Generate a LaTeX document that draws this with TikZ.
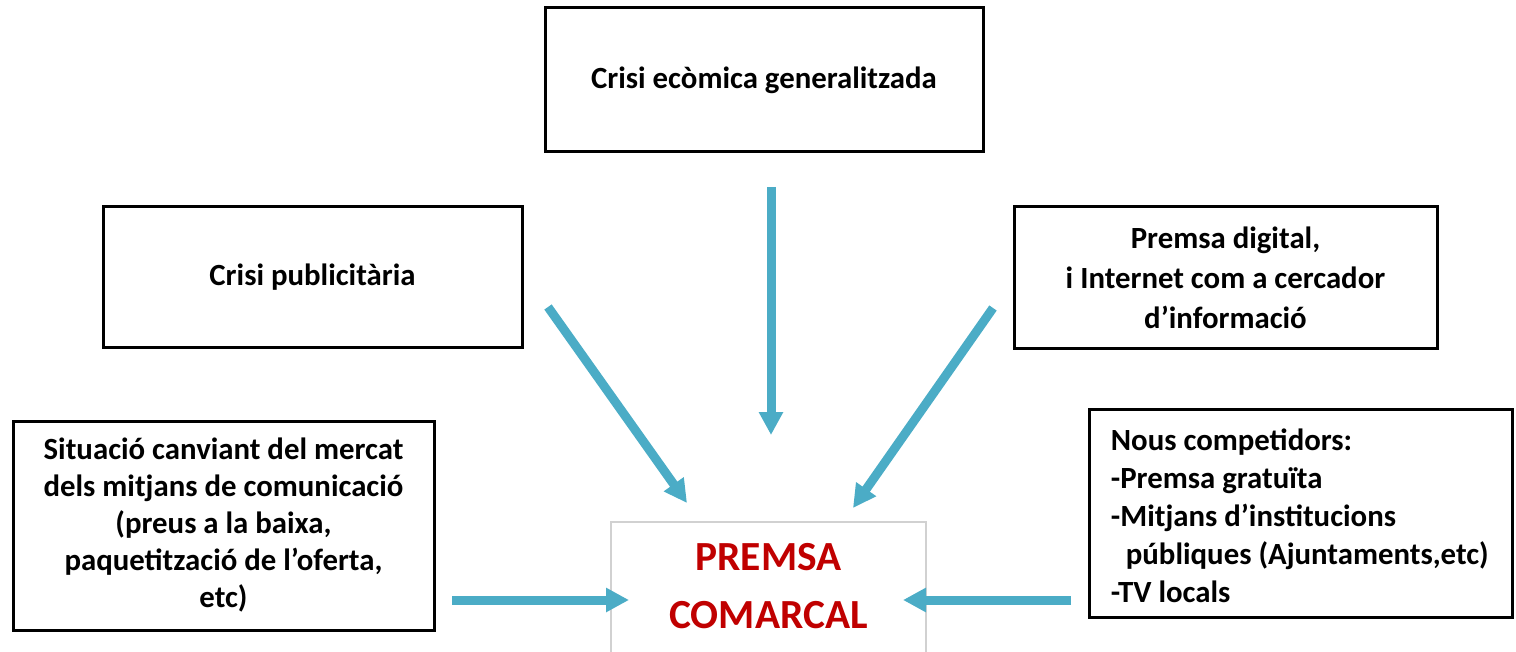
\documentclass[tikz,border=0pt]{standalone}
\usepackage{fontspec}
\setmainfont{Carlito}
\usetikzlibrary{arrows.meta}
\definecolor{arrowblue}{HTML}{4BACC6}
\definecolor{titlered}{HTML}{C00000}
\begin{document}
\begin{tikzpicture}[x=0.5pt,y=-0.5pt,
  txt/.style={font=\bfseries\fontsize{15.4}{18.5}\selectfont},
  box/.style={draw=black,line width=1.5pt,inner sep=0pt,align=center,txt},
  flow/.style={draw=arrowblue,line width=4.5pt,
    -{Triangle[width=11.5pt,length=11.5pt]}},
  frame/.style={draw=black!18,line width=0.7pt}]
\useasboundingbox (0,0) rectangle (1516,652);
\clip (0,0) rectangle (1516,652);

% boxes
\node[box,minimum width=219pt,minimum height=72pt] (eco) at (764,80)
  {Crisi ecòmica generalitzada};
\node[box,minimum width=209.5pt,minimum height=70.5pt] (pub) at (312.5,277.5)
  {Crisi publicitària};
\node[box,minimum width=211.5pt,minimum height=71pt,
  font=\bfseries\fontsize{15.4}{20}\selectfont] (dig) at (1225.5,278)
  {Premsa digital,\\ i Internet com a cercador\\ d’informació};
\node[box,minimum width=210.5pt,minimum height=104.5pt] (mer) at (223.5,525.5)
  {Situació canviant del mercat\\ dels mitjans de comunicació\\ (preus a la baixa,\\ paquetització de l’oferta,\\ etc)};
\node[box,minimum width=211.5pt,minimum height=104pt] (comp) at (1300.5,513) {};
\node[txt,font=\bfseries\fontsize{15.4}{19}\selectfont,align=left,anchor=west,
  inner sep=0pt] (compt) at ([xshift=11.5pt,yshift=-1.5pt]comp.west)
  {Nous competidors:\\ -Premsa gratuïta\\ -Mitjans d’institucions\\ \hspace*{7.5pt}públiques (Ajuntaments,etc)\\ -TV locals};

% central box (extends below the picture)
\draw[frame] (611,670) -- (611,522) -- (926,522) -- (926,670);
\node[text=titlered,align=center,inner sep=0pt,
  font=\bfseries\fontsize{20.7}{29}\selectfont] (core) at (768.5,586)
  {PREMSA\\ COMARCAL};

% arrow ends
\coordinate (s1) at (771,187);  \coordinate (e1) at (771,435);
\coordinate (s2) at (548,307);  \coordinate (e2) at (687,503);
\coordinate (s3) at (993,308);  \coordinate (e3) at (853,508);
\coordinate (s4) at (452,600);  \coordinate (e4) at (629,600);
\coordinate (s5) at (1071,600); \coordinate (e5) at (903,600);

\draw[flow] (s1) -- (e1);
\draw[flow] (s2) -- (e2);
\draw[flow] (s3) -- (e3);
\draw[flow] (s4) -- (e4);
\draw[flow] (s5) -- (e5);
\end{tikzpicture}
\end{document}
